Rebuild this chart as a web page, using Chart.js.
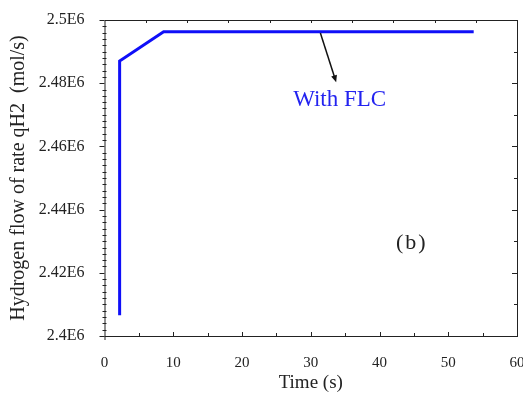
<!DOCTYPE html>
<html lang="en">
<head>
<meta charset="UTF-8">
<title>Hydrogen flow rate</title>
<script src="https://cdn.jsdelivr.net/npm/chart.js"></script>
<style>
  html, body { margin: 0; padding: 0; background: #fff; }
  #wrap { width: 523px; height: 397px; }
</style>
</head>
<body>
<div id="wrap"><canvas id="flowChart" width="523" height="397"></canvas></div>
<script>
// Data
const timeS = [2.2, 2.2, 8.6, 53.7];
const flowMolS = [2406600, 2487000, 2496300, 2496300];

const xTicks = [0, 10, 20, 30, 40, 50, 60];
const yTicks = [2400000, 2420000, 2440000, 2460000, 2480000, 2500000];

// annotation anchors, in data units
const labelText = 'With FLC';
const labelAt = [34.2, 2474700];
const arrowFrom = [31.4, 2495900];
const arrowTo = [33.7, 2480300];
const panelText = '(b)';
const panelAt = [44.7, 2429400];

const SERIF = '"Liberation Serif", "DejaVu Serif", serif';
const INK = '#222';

// frame, inward/outward ticks and annotations
const framePlugin = {
  id: 'frame',
  afterDraw(chart) {
    const { ctx, chartArea: a, scales: { x, y } } = chart;
    ctx.save();
    ctx.strokeStyle = INK;
    ctx.lineWidth = 1;
    ctx.strokeRect(a.left + 0.5, a.top + 0.5, a.right - a.left, a.bottom - a.top);

    ctx.beginPath();
    // left axis: major out, minor across
    for (let v = 2400000; v <= 2500000; v += 2000) {
      const py = Math.round(y.getPixelForValue(v)) + 0.5;
      const major = v % 20000 === 0;
      ctx.moveTo(a.left - (major ? 5 : 2), py);
      ctx.lineTo(a.left + (major ? 0 : 2), py);
    }
    // right axis: inward
    for (let v = 2410000; v < 2500000; v += 10000) {
      const py = Math.round(y.getPixelForValue(v)) + 0.5;
      const major = v % 20000 === 0;
      ctx.moveTo(a.right, py);
      ctx.lineTo(a.right - (major ? 5 : 3), py);
    }
    // bottom axis: inward
    for (let v = 5; v < 60; v += 5) {
      const px = Math.round(x.getPixelForValue(v)) + 0.5;
      ctx.moveTo(px, a.bottom);
      ctx.lineTo(px, a.bottom - (v % 10 === 0 ? 4 : 3));
    }
    ctx.moveTo(a.left + 0.5, a.bottom);
    ctx.lineTo(a.left + 0.5, a.bottom + 4);
    // top axis: inward
    for (let v = 6; v < 60; v += 6) {
      const px = Math.round(x.getPixelForValue(v)) + 0.5;
      ctx.moveTo(px, a.top);
      ctx.lineTo(px, a.top + 3);
    }
    ctx.stroke();

    // arrow
    const x0 = x.getPixelForValue(arrowFrom[0]), y0 = y.getPixelForValue(arrowFrom[1]);
    const x1 = x.getPixelForValue(arrowTo[0]), y1 = y.getPixelForValue(arrowTo[1]);
    const ang = Math.atan2(y1 - y0, x1 - x0);
    ctx.strokeStyle = '#111';
    ctx.lineWidth = 1.5;
    ctx.beginPath();
    ctx.moveTo(x0, y0);
    ctx.lineTo(x1 - 5 * Math.cos(ang), y1 - 5 * Math.sin(ang));
    ctx.stroke();
    ctx.fillStyle = '#111';
    ctx.beginPath();
    ctx.moveTo(x1, y1);
    ctx.lineTo(x1 - 7 * Math.cos(ang) + 3 * Math.sin(ang), y1 - 7 * Math.sin(ang) - 3 * Math.cos(ang));
    ctx.lineTo(x1 - 7 * Math.cos(ang) - 3 * Math.sin(ang), y1 - 7 * Math.sin(ang) + 3 * Math.cos(ang));
    ctx.closePath();
    ctx.fill();

    // texts
    ctx.textAlign = 'center';
    ctx.textBaseline = 'middle';
    ctx.fillStyle = '#2323f0';
    ctx.font = '23px ' + SERIF;
    ctx.fillText(labelText, x.getPixelForValue(labelAt[0]), y.getPixelForValue(labelAt[1]));
    ctx.fillStyle = INK;
    ctx.font = '22px ' + SERIF;
    ctx.letterSpacing = '2px';
    ctx.fillText(panelText, x.getPixelForValue(panelAt[0]), y.getPixelForValue(panelAt[1]));
    ctx.restore();
  }
};

new Chart(document.getElementById('flowChart'), {
  type: 'scatter',
  data: {
    datasets: [{
      label: 'With FLC',
      data: timeS.map((t, i) => ({ x: t, y: flowMolS[i] })),
      showLine: true,
      borderColor: '#0f0ff8',
      borderWidth: 3,
      pointRadius: 0,
      fill: false,
      tension: 0
    }]
  },
  options: {
    responsive: false,
    animation: false,
    devicePixelRatio: 1,
    layout: { autoPadding: false, padding: { top: 20, right: 6, left: 0, bottom: 0 } },
    plugins: { legend: { display: false }, tooltip: { enabled: false } },
    scales: {
      x: {
        type: 'linear',
        min: 0,
        max: 60,
        afterBuildTicks: s => { s.ticks = xTicks.map(v => ({ value: v })); },
        afterFit: s => { s.height = 61; s.paddingLeft = 0; s.paddingRight = 0; },
        grid: { display: false },
        border: { display: false },
        ticks: { color: INK, padding: 10, maxRotation: 0, font: { family: SERIF, size: 15 } },
        title: {
          display: true,
          text: 'Time (s)',
          color: INK,
          padding: { top: 0, bottom: 3 },
          font: { family: SERIF, size: 19 }
        }
      },
      y: {
        type: 'linear',
        min: 2400000,
        max: 2500000,
        afterBuildTicks: s => { s.ticks = yTicks.map(v => ({ value: v })); },
        afterFit: s => { s.width = 104.5; s.paddingTop = 0; s.paddingBottom = 0; },
        grid: { display: false },
        border: { display: false },
        ticks: {
          color: INK,
          padding: 12,
          font: { family: SERIF, size: 16 },
          callback: v => parseFloat((v / 1e6).toFixed(2)) + 'E6'
        },
        title: {
          display: true,
          text: 'Hydrogen flow of rate qH2  (mol/s)',
          color: INK,
          padding: { top: 7, bottom: 0 },
          font: { family: SERIF, size: 20 }
        }
      }
    }
  },
  plugins: [framePlugin]
});
</script>
</body>
</html>
